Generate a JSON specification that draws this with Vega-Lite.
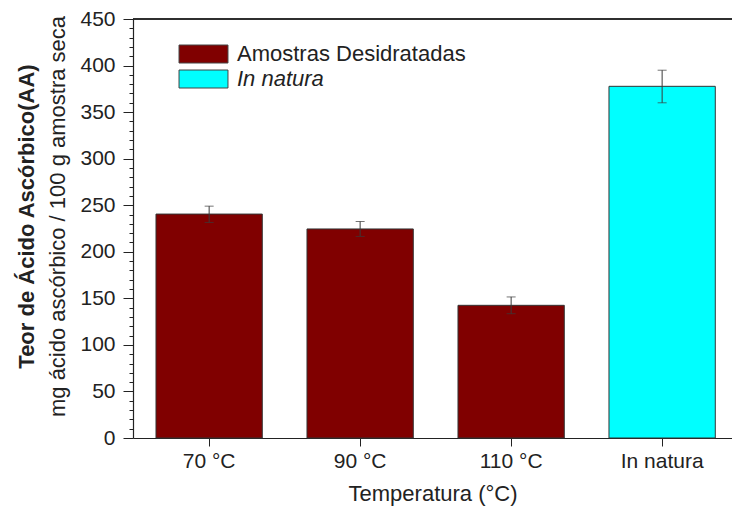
{
  "$schema": "https://vega.github.io/schema/vega-lite/v6.json",
  "autosize": "none",
  "width": 599,
  "height": 419,
  "padding": {"left": 133, "top": 19, "right": 0, "bottom": 72},
  "background": "white",
  "config": {
    "font": "Liberation Sans",
    "view": {"stroke": null},
    "axis": {"labelColor": "#222", "titleColor": "#222", "domainColor": "#222", "tickColor": "#222", "grid": false}
  },
  "data": {
    "values": [
      {"temp": "70 °C", "value": 240.5, "low": 231.5, "high": 249, "grupo": "Amostras Desidratadas"},
      {"temp": "90 °C", "value": 224.5, "low": 216.5, "high": 232.5, "grupo": "Amostras Desidratadas"},
      {"temp": "110 °C", "value": 142.5, "low": 133.5, "high": 151.5, "grupo": "Amostras Desidratadas"},
      {"temp": "In natura", "value": 377.7, "low": 360, "high": 395, "grupo": "In natura"}
    ]
  },
  "layer": [
    {
      "mark": {"type": "bar", "stroke": "#333", "strokeWidth": 1},
      "encoding": {
        "x": {
          "field": "temp", "type": "nominal", "sort": null,
          "scale": {"paddingInner": 0.296, "paddingOuter": 0.1315, "align": 0.579},
          "axis": {
            "title": "Temperatura (°C)", "labelAngle": 0, "labelFontSize": 21, "titleFontSize": 22,
            "titleFontWeight": "normal", "tickSize": 8, "labelPadding": 4, "titlePadding": 12,
            "domainWidth": 1.2
          }
        },
        "y": {
          "field": "value", "type": "quantitative",
          "scale": {"domain": [0, 450], "nice": false, "zero": true},
          "axis": {
            "title": "mg ácido ascórbico / 100 g amostra seca",
            "titleFontSize": 22, "titleFontWeight": "normal",
            "titleX": -76, "titleY": 197, "titleBaseline": "middle", "titleAngle": 270,
            "values": [0,10,20,30,40,50,60,70,80,90,100,110,120,130,140,150,160,170,180,190,200,210,220,230,240,250,260,270,280,290,300,310,320,330,340,350,360,370,380,390,400,410,420,430,440,450],
            "labelExpr": "datum.value % 50 === 0 ? datum.label : ''",
            "tickSize": {"condition": {"test": "datum.value % 50 === 0", "value": 10}, "value": 4},
            "labelFontSize": 21, "labelPadding": 8, "domainWidth": 1.2
          }
        },
        "color": {
          "field": "grupo", "type": "nominal",
          "scale": {"domain": ["Amostras Desidratadas", "In natura"], "range": ["#800000", "#00FFFF"]},
          "legend": {
            "title": null, "orient": "none", "legendX": 59.5, "legendY": 24, "padding": 0,
            "symbolType": "M-2.72,-1L2.72,-1L2.72,1L-2.72,1Z", "symbolSize": 324,
            "symbolStrokeColor": "#444", "symbolStrokeWidth": 1, "symbolOpacity": 1,
            "labelFontSize": 22, "labelColor": "#222", "labelOffset": 22.5, "rowPadding": 3, "labelLimit": 0,
            "labelFontStyle": {"expr": "datum.label == 'In natura' ? 'italic' : 'normal'"}
          }
        }
      }
    },
    {
      "mark": {"type": "errorbar", "ticks": {"size": 9}, "color": "#3a3a3a", "thickness": 1},
      "encoding": {
        "x": {"field": "temp", "type": "nominal", "sort": null},
        "y": {
          "field": "low", "type": "quantitative",
          "axis": {
            "orient": "left", "title": "Teor de Ácido Ascórbico(AA)", "titleFontSize": 22,
            "titleFontWeight": "bold", "titleX": -107, "titleY": 197, "titleBaseline": "middle", "titleAngle": 270,
            "labels": false, "ticks": false, "domain": false
          }
        },
        "y2": {"field": "high"}
      }
    },
    {
      "mark": {"type": "rule", "color": "#222", "strokeWidth": 1.2},
      "encoding": {"y": {"datum": 450, "type": "quantitative", "axis": null}}
    }
  ],
  "resolve": {"axis": {"y": "independent"}}
}
